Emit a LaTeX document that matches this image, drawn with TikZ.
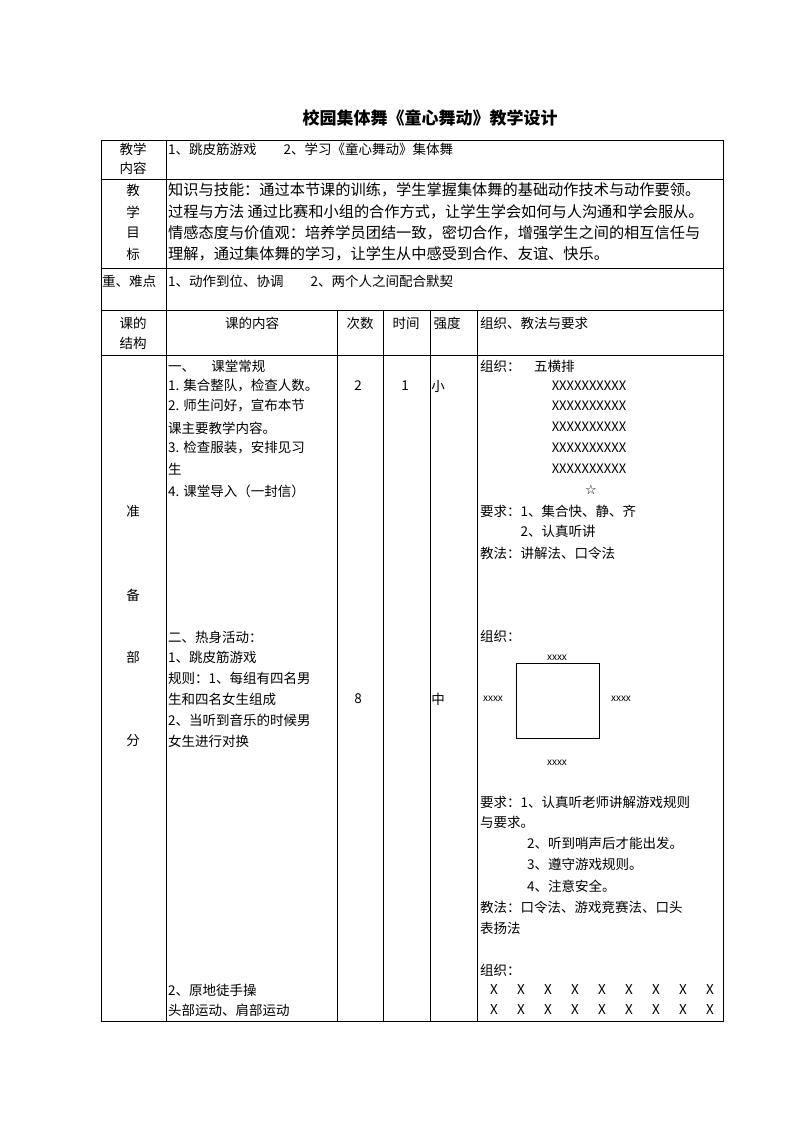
\documentclass[tikz,border=0pt]{standalone}
\usepackage{fontspec}
\setmainfont{Noto Sans CJK SC}
\newfontfamily\symf{DejaVu Sans}
\begin{document}
\begin{tikzpicture}[x=1pt,y=-1pt,
  t/.style={anchor=west,inner sep=0pt,font=\fontsize{13.5}{15}\selectfont},
  c/.style={anchor=center,inner sep=0pt,font=\fontsize{13.5}{15}\selectfont},
  w/.style={anchor=west,inner sep=0pt,font=\fontsize{15.2}{17}\selectfont},
  xs/.style={anchor=center,inner sep=0pt,font=\fontsize{10}{12}\selectfont},
  grid/.style={line width=0.9pt}]
\useasboundingbox (0,0) rectangle (794,1123);
\node[inner sep=0,font=\fontsize{17}{20}\selectfont\bfseries] (title) at (430,118) {校园集体舞《童心舞动》教学设计};
% grid
\draw[grid] (101,140) rectangle (723,1021);
\foreach \y in {179,268,310,355} \draw[grid] (101,\y) -- (723,\y);
\draw[grid] (166,140) -- (166,1021);
\foreach \x in {337,383,430,477} \draw[grid] (\x,310) -- (\x,1021);
% row 1
\node[c] (a1) at (133,149) {教学};
\node[c] (a2) at (133,168) {内容};
\node[t] (a3) at (168,149) {1、跳皮筋游戏\hspace{2em}2、学习《童心舞动》集体舞};
% row 2
\foreach \s/\y in {教/190,学/212,目/233,标/254} \node[c] at (133,\y) {\s};
\node[w] (b1) at (168,190) {知识与技能：通过本节课的训练，学生掌握集体舞的基础动作技术与动作要领。};
\node[w] (b2) at (168,212) {过程与方法 通过比赛和小组的合作方式，让学生学会如何与人沟通和学会服从。};
\node[w] (b3) at (168,233) {情感态度与价值观：培养学员团结一致，密切合作，增强学生之间的相互信任与};
\node[w] (b4) at (168,254) {理解，通过集体舞的学习，让学生从中感受到合作、友谊、快乐。};
% row 3
\node[t] (c1) at (102,281) {重、难点};
\node[t] (c2) at (168,281) {1、动作到位、协调\hspace{2em}2、两个人之间配合默契};
% header
\node[c] (d1) at (133,323) {课的};
\node[c] (d2) at (133,343) {结构};
\node[c] (d3) at (252,323) {课的内容};
\node[c] (d4) at (360,323) {次数};
\node[c] (d5) at (406,323) {时间};
\node[c] (d6) at (447,323) {强度};
\node[t] (d7) at (480,323) {组织、教法与要求};
% left column
\foreach \s/\y in {准/511,备/595,部/657,分/741} \node[c] at (133,\y) {\s};
% content column
\node[t] at (168,366) {一、\hspace{1.2em}课堂常规};
\node[t] at (168,386) {1. 集合整队，检查人数。};
\node[t] at (168,406) {2. 师生问好，宣布本节};
\node[t] at (168,428) {课主要教学内容。};
\node[t] at (168,448) {3. 检查服装，安排见习};
\node[t] at (168,469) {生};
\node[t] at (168,491) {4. 课堂导入（一封信）};
\node[t] at (168,637) {二、热身活动：};
\node[t] at (168,657) {1、跳皮筋游戏};
\node[t] at (168,678) {规则：1、每组有四名男};
\node[t] at (168,699) {生和四名女生组成};
\node[t] at (168,720) {2、当听到音乐的时候男};
\node[t] at (168,741) {女生进行对换};
\node[t] at (168,990) {2、原地徒手操};
\node[t] at (168,1010) {头部运动、肩部运动};
% numbers
\node[c] at (358,386) {2};
\node[c] at (405,386) {1};
\node[c] at (438,386) {小};
\node[c] at (358,699) {8};
\node[c] at (438,699) {中};
% right column
\node[t] at (480,366) {组织：\hspace{1em}五横排};
\foreach \y in {386,406,427,448,469} \node[c,font=\fontsize{13}{15}\selectfont] at (589,\y) {XXXXXXXXXX};
\node[c,font=\symf\fontsize{13}{15}\selectfont] (star) at (591,490) {☆};
\node[t] at (480,511) {要求：1、集合快、静、齐};
\node[t] at (480,531) {\hspace{3em}2、认真听讲};
\node[t] at (480,553) {教法：讲解法、口令法};
\node[t] at (480,636) {组织：};
\node[draw,minimum width=83pt,minimum height=75pt,inner sep=0,line width=0.8pt] (sq) at (557.5,700.5) {};
\node[xs] at (557,658) {xxxx};
\node[xs] at (493,699) {xxxx};
\node[xs] at (621,699) {xxxx};
\node[xs] at (557,763) {xxxx};
\node[t] at (480,802) {要求：1、认真听老师讲解游戏规则};
\node[t] at (480,822) {与要求。};
\node[t] at (527,843) {2、听到哨声后才能出发。};
\node[t] at (527,864) {3、遵守游戏规则。};
\node[t] at (527,886) {4、注意安全。};
\node[t] at (480,907) {教法：口令法、游戏竞赛法、口头};
\node[t] at (480,928) {表扬法};
\node[t] at (480,970) {组织：};
\foreach \i in {0,...,8} {
  \node[c] at (494+27*\i,990) {X};
  \node[c] at (494+27*\i,1010) {X};
}
\end{tikzpicture}
\end{document}
